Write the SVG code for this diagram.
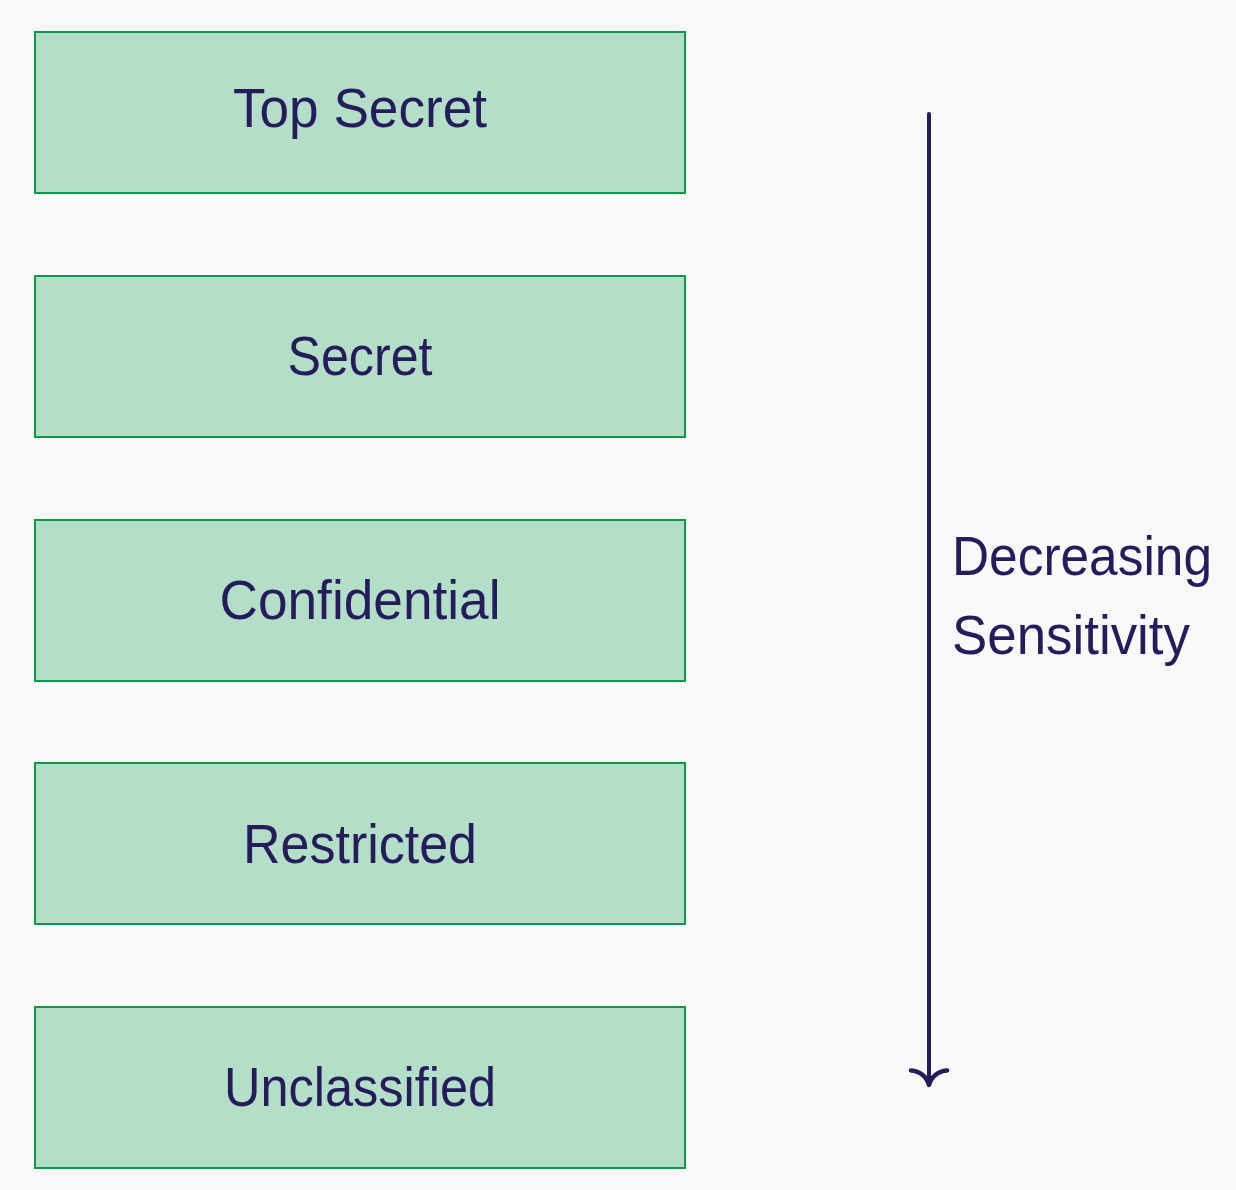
<svg xmlns="http://www.w3.org/2000/svg" width="1236" height="1190" viewBox="0 0 1236 1190">
<style>
.box{fill:#b3dfc8;stroke:#0a9a4a;stroke-width:2}
.t{font-family:"Liberation Sans","DejaVu Sans",sans-serif;font-size:56px;fill:#261c5c}
.c{text-anchor:middle}
.ln{fill:none;stroke:#261c5c;stroke-width:4;stroke-linecap:round;stroke-linejoin:round}
</style>
<rect width="1236" height="1190" fill="#f9f9f9"/>
<g id="top-secret"><rect class="box" x="35" y="32" width="650" height="161"/><text class="t c" x="360" y="127" textLength="254" lengthAdjust="spacingAndGlyphs">Top Secret</text></g>
<g id="secret"><rect class="box" x="35" y="276" width="650" height="161"/><text class="t c" x="360" y="375" textLength="145" lengthAdjust="spacingAndGlyphs">Secret</text></g>
<g id="confidential"><rect class="box" x="35" y="520" width="650" height="161"/><text class="t c" x="360" y="619" textLength="281" lengthAdjust="spacingAndGlyphs">Confidential</text></g>
<g id="restricted"><rect class="box" x="35" y="763" width="650" height="161"/><text class="t c" x="360" y="863" textLength="234" lengthAdjust="spacingAndGlyphs">Restricted</text></g>
<g id="unclassified"><rect class="box" x="35" y="1007" width="650" height="161"/><text class="t c" x="360" y="1106" textLength="272" lengthAdjust="spacingAndGlyphs">Unclassified</text></g>
<g id="connectors">
<path class="ln" d="M929,114 V1084"/>
<path class="ln" style="stroke-width:4.6" d="M911,1070.5 C920,1071 927,1077 929,1085 C931,1077 938,1071 947,1070.5"/>
</g>
<g id="label">
<text class="t" x="952" y="575" textLength="260" lengthAdjust="spacingAndGlyphs">Decreasing</text>
<text class="t" x="952" y="654" textLength="238" lengthAdjust="spacingAndGlyphs">Sensitivity</text>
</g>
</svg>
